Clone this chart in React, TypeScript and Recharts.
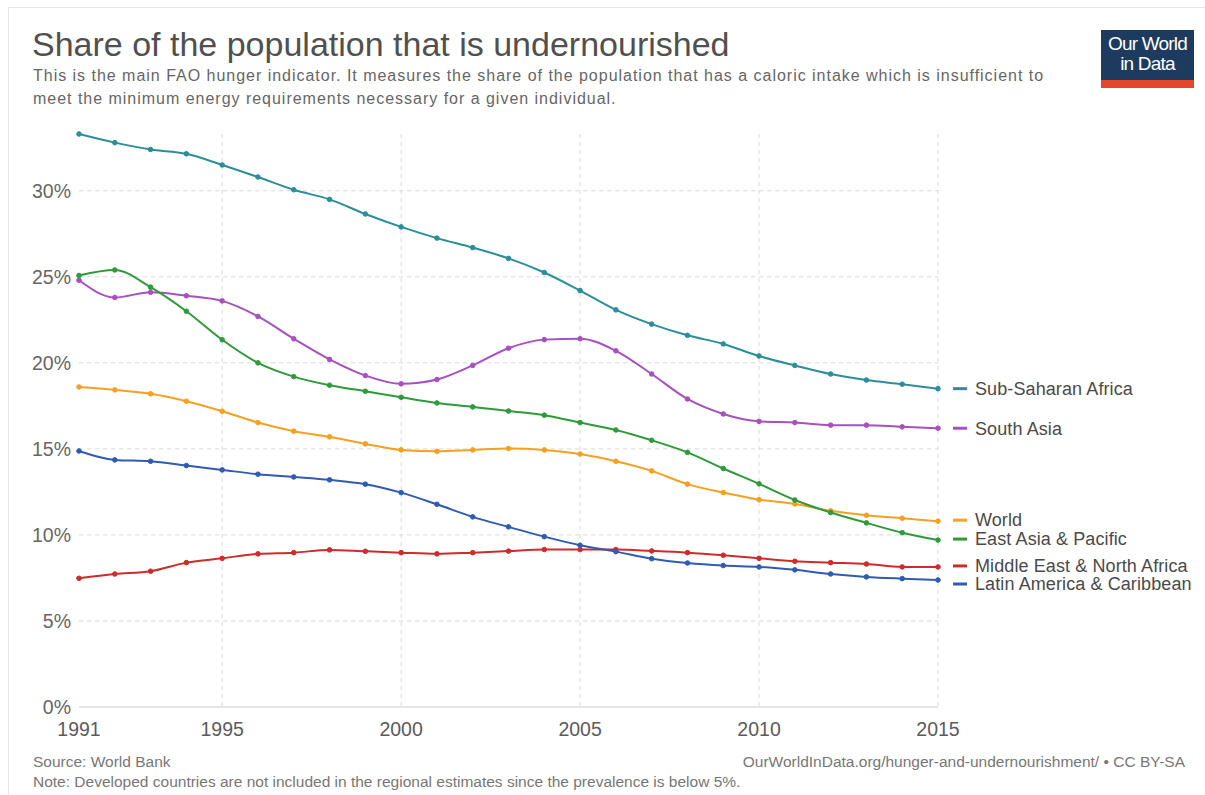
import { LineChart, Line, XAxis, YAxis, CartesianGrid } from 'recharts';

const years = [1991, 1992, 1993, 1994, 1995, 1996, 1997, 1998, 1999, 2000, 2001, 2002, 2003, 2004, 2005, 2006, 2007, 2008, 2009, 2010, 2011, 2012, 2013, 2014, 2015];

const subSaharanAfrica = [33.3, 32.8, 32.4, 32.15, 31.5, 30.8, 30.06, 29.5, 28.65, 27.9, 27.25, 26.7, 26.07, 25.25, 24.2, 23.08, 22.25, 21.6, 21.1, 20.4, 19.85, 19.35, 19.0, 18.76, 18.5];
const southAsia = [24.8, 23.8, 24.1, 23.9, 23.6, 22.7, 21.4, 20.2, 19.26, 18.78, 19.03, 19.85, 20.85, 21.35, 21.4, 20.7, 19.35, 17.9, 17.03, 16.6, 16.53, 16.38, 16.38, 16.28, 16.2];
const world = [18.6, 18.43, 18.2, 17.77, 17.19, 16.53, 16.03, 15.7, 15.29, 14.94, 14.86, 14.94, 15.02, 14.94, 14.7, 14.28, 13.72, 12.95, 12.46, 12.05, 11.8, 11.4, 11.14, 10.97, 10.8];
const eastAsiaPacific = [25.08, 25.4, 24.4, 23.0, 21.34, 20.0, 19.2, 18.7, 18.35, 18.0, 17.67, 17.44, 17.2, 16.96, 16.53, 16.1, 15.5, 14.8, 13.86, 12.97, 12.03, 11.3, 10.7, 10.13, 9.7];
const middleEastNorthAfrica = [7.48, 7.73, 7.89, 8.39, 8.64, 8.9, 8.97, 9.13, 9.05, 8.97, 8.9, 8.97, 9.06, 9.15, 9.15, 9.15, 9.07, 8.97, 8.82, 8.64, 8.47, 8.39, 8.31, 8.14, 8.14];
const latinAmericaCaribbean = [14.88, 14.36, 14.28, 14.03, 13.78, 13.53, 13.37, 13.2, 12.95, 12.46, 11.78, 11.05, 10.47, 9.9, 9.4, 9.03, 8.62, 8.37, 8.22, 8.14, 7.97, 7.73, 7.56, 7.46, 7.38];

const xTicks = [1991, 1995, 2000, 2005, 2010, 2015];
const yTicks = [0, 5, 10, 15, 20, 25, 30];

const series = [
  { key: 'ssa', name: 'Sub-Saharan Africa', values: subSaharanAfrica, color: '#2a8f9a', labelShift: 0 },
  { key: 'sa', name: 'South Asia', values: southAsia, color: '#a651bd', labelShift: 0 },
  { key: 'world', name: 'World', values: world, color: '#f5a020', labelShift: -1 },
  { key: 'eap', name: 'East Asia & Pacific', values: eastAsiaPacific, color: '#2f9a3a', labelShift: -1 },
  { key: 'mena', name: 'Middle East & North Africa', values: middleEastNorthAfrica, color: '#d02b2b', labelShift: -1 },
  { key: 'lac', name: 'Latin America & Caribbean', values: latinAmericaCaribbean, color: '#2f5cb0', labelShift: 4 },
];

const data = years.map((year, i) => {
  const row: Record<string, number> = { year };
  series.forEach((s) => {
    row[s.key] = s.values[i];
  });
  return row;
});

const font = '"Liberation Sans", Arial, Helvetica, sans-serif';

function endLabel(name: string, color: string, shift: number) {
  return (props: any) => {
    const { x, y, index } = props;
    if (index !== years.length - 1) return null;
    const ly = y + shift;
    return (
      <g>
        <line x1={x + 15} x2={x + 29} y1={ly} y2={ly} stroke={color} strokeWidth={3} />
        <text x={x + 37} y={ly} dy="0.35em" fontSize={18} fill="#4a4a4a" fontFamily={font} letterSpacing={0.1}>
          {name}
        </text>
      </g>
    );
  };
}

export default function App() {
  return (
    <div
      style={{
        position: 'absolute',
        left: 0,
        top: 0,
        width: 1205,
        height: 795,
        background: '#fff',
        fontFamily: font,
        overflow: 'hidden',
      }}
    >
      <div style={{ position: 'absolute', left: 8, top: 7, width: 1205, height: 800, borderLeft: '1px solid #e6e6e6', borderTop: '1px solid #e6e6e6' }} />
      <div style={{ position: 'absolute', left: 32, top: 25, fontSize: 34, color: '#505050', whiteSpace: 'nowrap' }}>
        Share of the population that is undernourished
      </div>
      <div style={{ position: 'absolute', left: 33, top: 64, fontSize: 16, lineHeight: '23px', color: '#666', width: 1100, letterSpacing: 0.98, whiteSpace: 'nowrap' }}>
        This is the main FAO hunger indicator. It measures the share of the population that has a caloric intake which is insufficient to
        <br />
        meet the minimum energy requirements necessary for a given individual.
      </div>

      <div style={{ position: 'absolute', left: 1101, top: 30, width: 93, height: 58, background: '#1d3a5f' }}>
        <div style={{ color: '#fff', fontSize: 19, lineHeight: '20px', textAlign: 'center', paddingTop: 4, letterSpacing: -0.8 }}>
          Our World
          <br />
          in Data
        </div>
        <div style={{ position: 'absolute', left: 0, bottom: 0, width: 93, height: 8, background: '#e4472a' }} />
      </div>

      <div style={{ position: 'absolute', left: 0, top: 0 }}>
        <LineChart width={1205} height={795} data={data} margin={{ top: 134, right: 267, left: 19, bottom: 58 }}>
          <CartesianGrid
            stroke="#d9d9d9"
            strokeDasharray="4 4"
            verticalValues={[1995, 2000, 2005, 2010, 2015]}
            horizontalValues={[5, 10, 15, 20, 25, 30]}
          />
          <XAxis
            dataKey="year"
            type="number"
            domain={[1991, 2015]}
            ticks={xTicks}
            height={30}
            tickLine={false}
            tickMargin={9}
            axisLine={{ stroke: '#cccccc' }}
            tick={{ fontSize: 19.5, fill: '#5b5b5b', fontFamily: font }}
            allowDecimals={false}
          />
          <YAxis
            type="number"
            domain={[0, 33.3]}
            ticks={yTicks}
            width={60}
            tickLine={false}
            axisLine={false}
            tickFormatter={(v: number) => `${v}%`}
            tick={{ fontSize: 19.5, fill: '#666', fontFamily: font }}
          />
          {series.map((s) => (
            <Line
              key={s.key}
              dataKey={s.key}
              name={s.name}
              type="monotone"
              stroke={s.color}
              strokeWidth={2}
              dot={{ r: 2.3, fill: s.color, stroke: s.color, strokeWidth: 1 }}
              isAnimationActive={false}
              label={endLabel(s.name, s.color, s.labelShift)}
            />
          ))}
        </LineChart>
      </div>

      <div style={{ position: 'absolute', left: 33, top: 753, fontSize: 15.5, color: '#777' }}>Source: World Bank</div>
      <div style={{ position: 'absolute', right: 20, top: 753, fontSize: 15.5, color: '#777', whiteSpace: 'nowrap' }}>
        OurWorldInData.org/hunger-and-undernourishment/ • CC BY-SA
      </div>
      <div style={{ position: 'absolute', left: 33, top: 773, fontSize: 15.5, color: '#777', whiteSpace: 'nowrap' }}>
        Note: Developed countries are not included in the regional estimates since the prevalence is below 5%.
      </div>
    </div>
  );
}
